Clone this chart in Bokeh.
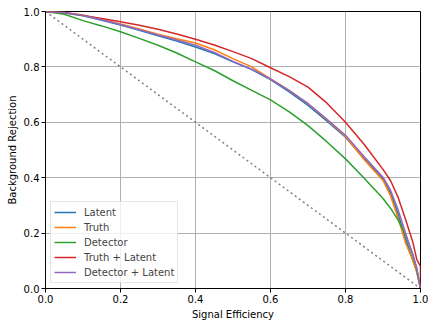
from bokeh.plotting import figure
from bokeh.models import Range1d, FixedTicker, PrintfTickFormatter, Legend, LegendItem
from bokeh.embed import file_html
from bokeh.resources import INLINE

# Signal efficiency sample points
eff = [0.0, 0.05, 0.1, 0.15, 0.2, 0.25, 0.3, 0.35, 0.4, 0.45, 0.5, 0.55, 0.6, 0.65,
       0.7, 0.75, 0.8, 0.85, 0.9, 0.92, 0.94, 0.96, 0.98, 0.99, 1.0]
# Truth + Latent curve ends with a vertical drop at efficiency 1.0
eff_tl = eff + [1.0]

# Background rejection for each model
latent = [1.0, 0.995, 0.985, 0.968, 0.951, 0.932, 0.912, 0.893, 0.872, 0.848, 0.818, 0.790, 0.754,
          0.710, 0.661, 0.605, 0.546, 0.468, 0.395, 0.345, 0.270, 0.180, 0.100, 0.060, 0.0]
truth = [1.0, 0.996, 0.987, 0.971, 0.955, 0.937, 0.918, 0.902, 0.886, 0.862, 0.830, 0.800, 0.757,
         0.715, 0.667, 0.610, 0.549, 0.465, 0.390, 0.335, 0.255, 0.165, 0.100, 0.060, 0.0]
detector = [1.0, 0.990, 0.967, 0.948, 0.927, 0.903, 0.878, 0.850, 0.818, 0.787, 0.750, 0.715, 0.681,
            0.638, 0.588, 0.530, 0.468, 0.398, 0.325, 0.290, 0.248, 0.195, 0.120, 0.070, 0.0]
truth_latent = [1.0, 0.996, 0.986, 0.975, 0.963, 0.950, 0.936, 0.919, 0.900, 0.879, 0.855, 0.830, 0.797,
                0.765, 0.727, 0.670, 0.600, 0.520, 0.430, 0.390, 0.330, 0.250, 0.165, 0.105, 0.080, 0.0]
detector_latent = [1.0, 0.996, 0.986, 0.970, 0.953, 0.934, 0.915, 0.897, 0.878, 0.852, 0.820, 0.792, 0.757,
                   0.714, 0.668, 0.612, 0.553, 0.476, 0.402, 0.355, 0.285, 0.200, 0.120, 0.075, 0.0]

series = [
    ("Latent", eff, latent, "#1f77b4"),
    ("Truth", eff, truth, "#ff7f0e"),
    ("Detector", eff, detector, "#2ca02c"),
    ("Truth + Latent", eff_tl, truth_latent, "#d62728"),
    ("Detector + Latent", eff, detector_latent, "#9467bd"),
]

diag_x = [0.0, 1.0]
diag_y = [1.0, 0.0]

ticks = [0.0, 0.2, 0.4, 0.6, 0.8, 1.0]

p = figure(output_backend="svg", toolbar_location=None,
           frame_width=375, frame_height=277,
           x_range=Range1d(0, 1), y_range=Range1d(0, 1),
           min_border_left=45, min_border_right=8, min_border_top=11, min_border_bottom=31,
           background_fill_color="white", border_fill_color="white")

p.outline_line_color = "black"
p.outline_line_width = 1

for ax in (p.xaxis, p.yaxis):
    ax.ticker = FixedTicker(ticks=ticks)
    ax.formatter = PrintfTickFormatter(format="%.1f")
    ax.major_label_text_font = "DejaVu Sans"
    ax.major_label_text_font_size = "10px"
    ax.major_label_text_color = "black"
    ax.axis_label_text_font = "DejaVu Sans"
    ax.axis_label_text_font_size = "10px"
    ax.axis_label_text_font_style = "normal"
    ax.axis_label_text_color = "black"
    ax.major_tick_out = 4
    ax.major_tick_in = 0
    ax.minor_tick_out = 0
    ax.minor_tick_in = 0
    ax.axis_line_color = "black"
    ax.major_tick_line_color = "black"
    ax.major_label_standoff = 2
    ax.axis_label_standoff = 3

p.xaxis.axis_label = "Signal Efficiency"
p.yaxis.axis_label = "Background Rejection"

p.grid.grid_line_color = "#b0b0b0"
p.grid.grid_line_width = 1
p.xgrid.ticker = FixedTicker(ticks=ticks)
p.ygrid.ticker = FixedTicker(ticks=ticks)

p.line(diag_x, diag_y, line_color="gray", line_width=1.5, line_dash="2 3")

items = []
for name, xs, vals, col in series:
    r = p.line(xs, vals, line_color=col, line_width=1.5)
    items.append(LegendItem(label=name, renderers=[r]))

legend = Legend(items=items, location="bottom_left")
legend.margin = 5
legend.padding = 3
legend.spacing = 1
legend.glyph_width = 22
legend.glyph_height = 14
legend.label_height = 14
legend.label_standoff = 8
legend.label_text_font = "DejaVu Sans"
legend.label_text_font_size = "10px"
legend.border_line_color = "#cccccc"
legend.background_fill_color = "white"
legend.background_fill_alpha = 0.8
p.add_layout(legend)

open("out.html", "w").write(file_html(p, INLINE))
